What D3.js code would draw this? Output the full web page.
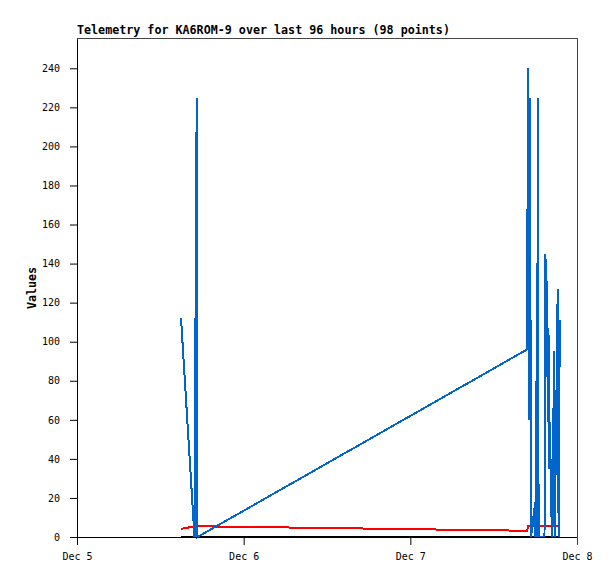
<!DOCTYPE html>
<html>
<head>
<meta charset="utf-8">
<script src="https://cdn.jsdelivr.net/npm/d3@7"></script>
<style>
  body { margin: 0; background: #fff; }
  svg { display: block; }
  text { font-family: "DejaVu Sans Mono", monospace; }
</style>
</head>
<body>
<svg id="chart" width="615" height="579"></svg>
<script>
// hours after Dec 5 00:00 for each sample
var hours = [14.98, 16.92, 17.02, 17.10, 17.22, 17.35,
             64.80, 64.95, 65.09, 65.23, 65.38, 65.88, 66.00, 66.12, 66.24, 66.36, 66.47,
             67.32, 67.46, 67.58, 67.68, 67.79, 67.89, 68.04, 68.14, 68.26, 68.36, 68.46,
             68.69, 68.80, 69.22, 69.35, 69.52];
var blueValues = [112, 0, 112, 0, 225, 0,
                  96, 240, 60, 225, 0, 15, 0, 80, 0, 225, 0,
                  0, 145, 82, 131, 59, 107, 35, 59, 10, 35, 0,
                  95, 0, 127, 0, 111];
var redValues = [4.2, 5.4, 5.5, 5.5, 5.5, 5.5,
                 3.2, 5.4, 5.4, 5.4, 5.4, 5.4, 5.4, 5.4, 5.4, 5.4, 5.4,
                 5.4, 5.4, 5.4, 5.4, 5.4, 5.4, 5.4, 5.4, 5.4, 5.4, 5.4,
                 5.4, 5.4, 5.4, 5.4, 5.4];
var blackValues = hours.map(function() { return 0; });
var yTicks = [0, 20, 40, 60, 80, 100, 120, 140, 160, 180, 200, 220, 240];
var dayTicks = ["2023-12-05", "2023-12-06", "2023-12-07", "2023-12-08"];

(function() {
  var svg = d3.select("#chart"),
      left = 77, right = 577, plotTop = 39, bottom = 537;

  var start = new Date(Date.UTC(2023, 11, 5));
  var x = d3.scaleUtc()
      .domain([start, new Date(Date.UTC(2023, 11, 8))])
      .range([left, right]);
  var y = d3.scaleLinear().domain([0, 255]).range([bottom, plotTop]);

  function toDate(h) { return new Date(start.getTime() + h * 3600 * 1000); }

  // frame
  svg.append("rect")
    .attr("x", left + 0.5).attr("y", plotTop - 0.5)
    .attr("width", right - left).attr("height", bottom - plotTop + 1)
    .attr("fill", "none").attr("stroke", "#444");

  var series = [
    { values: redValues, color: "#ff0000" },
    { values: blackValues, color: "#000000" },
    { values: blueValues, color: "#0066cc" }
  ];

  var line = d3.line()
      .x(function(d) { return x(toDate(d[0])); })
      .y(function(d) { return y(d[1]); });

  series.forEach(function(s) {
    svg.append("path")
      .datum(hours.map(function(h, i) { return [h, s.values[i]]; }))
      .attr("d", line)
      .attr("fill", "none")
      .attr("stroke", s.color)
      .attr("stroke-width", 2)
      .attr("shape-rendering", "crispEdges");
  });

  var yAxis = svg.append("g")
      .attr("transform", "translate(" + left + ",0)")
      .call(d3.axisLeft(y).tickValues(yTicks).tickSize(7).tickPadding(10).tickSizeOuter(0));

  var xAxis = svg.append("g")
      .attr("transform", "translate(0," + bottom + ")")
      .call(d3.axisBottom(x)
        .tickValues(dayTicks.map(function(d) { return d3.utcParse("%Y-%m-%d")(d); }))
        .tickFormat(d3.utcFormat("%b %-d"))
        .tickSize(8).tickPadding(8).tickSizeOuter(0));

  [yAxis, xAxis].forEach(function(a) {
    a.selectAll("text").attr("font-family", "DejaVu Sans Mono").attr("font-size", 10).attr("fill", "#000");
    a.selectAll("line,path").attr("stroke", "#000");
  });
  xAxis.select(".tick:last-of-type line").attr("stroke", "#444");

  svg.append("text")
    .attr("x", 77).attr("y", 34)
    .attr("font-size", 11.7).attr("font-weight", "bold")
    .text("Telemetry for KA6ROM-9 over last 96 hours (98 points)");

  svg.append("text")
    .attr("transform", "translate(36,288) rotate(-90)")
    .attr("text-anchor", "middle")
    .attr("font-size", 11.7).attr("font-weight", "bold")
    .text("Values");
})();
</script>
</body>
</html>
